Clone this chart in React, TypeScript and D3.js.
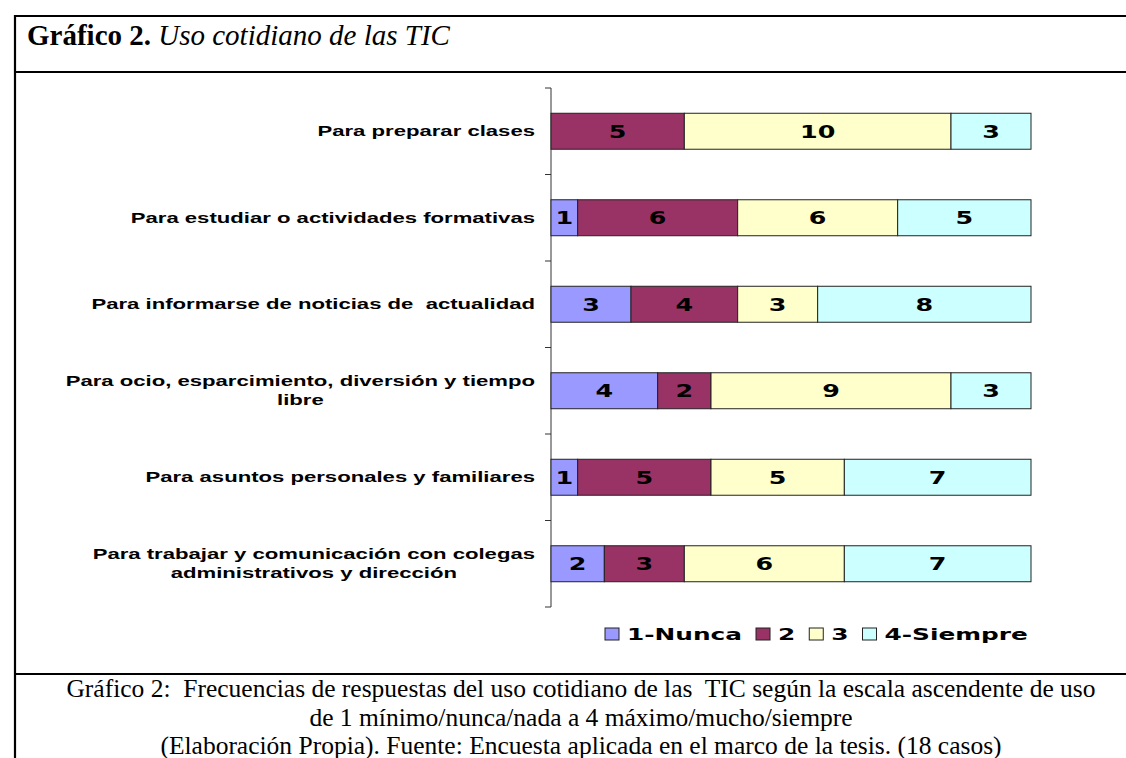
import React, { useEffect, useRef } from "react";
import * as d3 from "d3";

const categories = [
  "Para preparar clases",
  "Para estudiar o actividades formativas",
  "Para informarse de noticias de  actualidad",
  "Para ocio, esparcimiento, diversión y tiempo libre",
  "Para asuntos personales y familiares",
  "Para trabajar y comunicación con colegas administrativos y dirección",
];
const seriesNames = ["1-Nunca", "2", "3", "4-Siempre"];
const nunca = [0, 1, 3, 4, 1, 2];
const dos = [5, 6, 4, 2, 5, 3];
const tres = [10, 6, 3, 9, 5, 6];
const siempre = [3, 5, 8, 3, 7, 7];
const colors = ["#9999FF", "#993366", "#FFFFCC", "#CCFFFF"];
const titleBold = "Gráfico 2.";
const titleItalic = " Uso cotidiano de las TIC";
const captionLines = [
  "Gráfico 2:  Frecuencias de respuestas del uso cotidiano de las  TIC según la escala ascendente de uso",
  "de 1 mínimo/nunca/nada a 4 máximo/mucho/siempre",
  "(Elaboración Propia). Fuente: Encuesta aplicada en el marco de la tesis. (18 casos)",
];

const W = 1126;
const H = 758;

export default function App() {
  const ref = useRef<SVGSVGElement | null>(null);

  useEffect(() => {
    const svg = d3.select(ref.current);
    svg.selectAll("*").remove();

    const series = [nunca, dos, tres, siempre];
    const rows = categories.map((c, i) => {
      let acc = 0;
      return {
        cat: c,
        segs: series.map((s, k) => {
          const x0 = acc;
          acc += s[i];
          return { k, v: s[i], x0, x1: acc };
        }),
      };
    });

    // Frame
    const frame = svg.append("g").attr("stroke", "#000").attr("stroke-width", 2.2);
    frame.append("line").attr("x1", 14).attr("x2", W).attr("y1", 16).attr("y2", 16);
    frame.append("line").attr("x1", 15).attr("x2", 15).attr("y1", 15).attr("y2", H);
    frame.append("line").attr("x1", 14).attr("x2", W).attr("y1", 72).attr("y2", 72);
    frame.append("line").attr("x1", 14).attr("x2", W).attr("y1", 674).attr("y2", 674);

    // Title
    const t = svg
      .append("text")
      .attr("x", 27)
      .attr("y", 45)
      .attr("font-family", "'Liberation Serif', 'Times New Roman', serif")
      .attr("font-size", 29)
      .attr("fill", "#000")
      .attr("xml:space", "preserve")
      .style("white-space", "pre");
    t.append("tspan").attr("font-weight", "bold").text(titleBold);
    t.append("tspan").attr("font-style", "italic").text(titleItalic);

    // Caption
    svg
      .append("g")
      .selectAll("text")
      .data(captionLines)
      .join("text")
      .attr("x", 581)
      .attr("y", (_, i) => 697 + i * 28.5)
      .attr("text-anchor", "middle")
      .attr("font-family", "'Liberation Serif', 'Times New Roman', serif")
      .attr("font-size", 25.5)
      .attr("fill", "#000")
      .attr("xml:space", "preserve")
      .style("white-space", "pre")
      .text((d) => d);

    // Scales
    const x = d3.scaleLinear().domain([0, 18]).range([551, 1031]);
    const y = d3
      .scaleBand<string>()
      .domain(categories)
      .range([88, 607])
      .paddingInner(0.584)
      .paddingOuter(0.292);

    // Axis
    const axis = svg.append("g").attr("stroke", "#333").attr("stroke-width", 1);
    axis.append("line").attr("x1", 551).attr("x2", 551).attr("y1", 88).attr("y2", 607);
    const step = y.step();
    const tickYs = d3.range(categories.length + 1).map((i) => 88 + i * step);
    axis
      .selectAll("line.tick")
      .data(tickYs)
      .join("line")
      .attr("class", "tick")
      .attr("x1", 545)
      .attr("x2", 551)
      .attr("y1", (d) => d)
      .attr("y2", (d) => d);

    // Bars
    const bw = y.bandwidth();
    const rowG = svg
      .append("g")
      .selectAll("g")
      .data(rows)
      .join("g")
      .attr("transform", (d) => `translate(0,${y(d.cat)})`);
    const segG = rowG
      .selectAll("g")
      .data((d) => d.segs.filter((s) => s.v > 0))
      .join("g");
    segG
      .append("rect")
      .attr("x", (d) => x(d.x0))
      .attr("width", (d) => x(d.x1) - x(d.x0))
      .attr("y", 0)
      .attr("height", bw)
      .attr("fill", (d) => colors[d.k])
      .attr("stroke", "#222")
      .attr("stroke-width", 1);
    segG
      .append("g")
      .attr("transform", (d) => `translate(${(x(d.x0) + x(d.x1)) / 2},${bw / 2 + 6.5}) scale(1.45,1)`)
      .append("text")
      .attr("text-anchor", "middle")
      .attr("font-family", "'DejaVu Sans', Verdana, sans-serif")
      .attr("font-weight", "bold")
      .attr("font-size", 17.5)
      .attr("fill", "#000")
      .text((d) => String(d.v));

    // Category labels with wrapping
    const LS = 1.58;
    const maxW = 470 / LS;
    const labG = svg.append("g");
    const measure = labG
      .append("text")
      .attr("font-family", "'Liberation Sans', Arial, sans-serif")
      .attr("font-weight", "bold")
      .attr("font-size", 14)
      .attr("visibility", "hidden");
    const wrap = (s: string) => {
      const words = s.split(" ");
      const lines: string[] = [];
      let cur = "";
      words.forEach((w, i) => {
        const cand = i === 0 ? w : cur + " " + w;
        measure.text(cand);
        const len = (measure.node() as SVGTextElement).getComputedTextLength();
        if (len > maxW && cur.trim() !== "") {
          lines.push(cur);
          cur = w;
        } else {
          cur = cand;
        }
      });
      lines.push(cur);
      return lines;
    };
    categories.forEach((c) => {
      const lines = wrap(c);
      const lh = 19;
      const cy = (y(c) as number) + bw / 2;
      const g = labG
        .append("g")
        .attr("transform", `translate(535,${cy}) scale(${LS},1)`);
      const txt = g
        .append("text")
        .attr("font-family", "'Liberation Sans', Arial, sans-serif")
        .attr("font-weight", "bold")
        .attr("font-size", 14)
        .attr("fill", "#000")
        .attr("xml:space", "preserve")
        .style("white-space", "pre");
      if (lines.length === 1) {
        txt.append("tspan").attr("x", 0).attr("y", 5).attr("text-anchor", "end").text(lines[0]);
      } else {
        lines.forEach((l, i) => {
          const ly = 5 + (i - (lines.length - 1) / 2) * lh;
          const ts = txt.append("tspan").attr("y", ly).text(l);
          if (i === 0) {
            ts.attr("x", 0).attr("text-anchor", "end");
          } else {
            ts.attr("text-anchor", "middle");
          }
        });
        const first = txt.select("tspan").node() as SVGTSpanElement;
        const w0 = first.getComputedTextLength();
        txt.selectAll("tspan").each(function (_, i) {
          if (i > 0) d3.select(this).attr("x", -w0 / 2);
        });
      }
    });
    measure.remove();

    // Legend
    const LL = 1.55;
    const leg = svg.append("g");
    let lx = 605;
    const ly = 634;
    seriesNames.forEach((name, k) => {
      leg
        .append("rect")
        .attr("x", lx)
        .attr("y", ly - 6)
        .attr("width", 14)
        .attr("height", 12)
        .attr("fill", colors[k])
        .attr("stroke", "#222")
        .attr("stroke-width", 1);
      const tx = lx + 22;
      const g = leg.append("g").attr("transform", `translate(${tx},${ly + 6}) scale(${LL},1)`);
      const tt = g
        .append("text")
        .attr("font-family", "'DejaVu Sans', Verdana, sans-serif")
        .attr("font-weight", "bold")
        .attr("font-size", 16)
        .attr("fill", "#000")
        .text(name);
      const w = (tt.node() as SVGTextElement).getComputedTextLength() * LL;
      lx = tx + w + 14;
    });
  }, []);

  return (
    <svg
      ref={ref}
      width={W}
      height={H}
      style={{ position: "absolute", left: 0, top: 0, background: "#fff", display: "block" }}
    />
  );
}
